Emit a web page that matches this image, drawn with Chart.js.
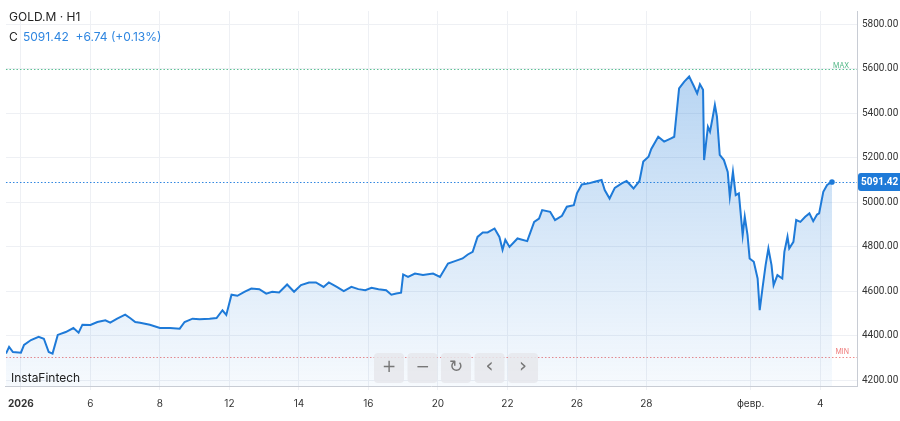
<!DOCTYPE html>
<html><head><meta charset="utf-8">
<script src="https://cdn.jsdelivr.net/npm/chart.js@4/dist/chart.umd.min.js"></script>
<style>html,body{margin:0;padding:0;background:#fff}#wrap{width:900px;height:421px;position:relative}</style>
</head><body><div id="wrap"><canvas id="c" width="900" height="421"></canvas></div>
<script>
// trading-day index (0 = Jan 2, 2026) and price
const days=[-0.43,-0.34,-0.23,0,0.09,0.29,0.51,0.66,0.8,0.91,1.06,1.29,1.51,1.66,1.77,2.0,2.2,2.43,2.57,2.77,3.0,3.14,3.29,3.43,3.71,4.0,4.29,4.57,4.71,4.94,5.14,5.43,5.63,5.8,5.91,6.06,6.23,6.43,6.63,6.86,7.06,7.23,7.43,7.66,7.86,8.06,8.29,8.49,8.71,8.86,9.09,9.29,9.51,9.71,9.91,10.09,10.29,10.51,10.66,10.8,10.94,11.0,11.14,11.34,11.57,11.86,12.06,12.29,12.51,12.71,12.86,13.0,13.14,13.29,13.43,13.63,13.77,13.86,13.94,14.06,14.29,14.57,14.77,14.91,15.0,15.23,15.37,15.57,15.71,15.91,16.0,16.14,16.34,16.51,16.71,16.8,16.94,17.09,17.29,17.43,17.63,17.8,17.91,18.06,18.14,18.34,18.51,18.71,18.8,18.94,19.09,19.23,19.37,19.46,19.54,19.63,19.66,19.77,19.83,19.91,19.97,20.03,20.11,20.23,20.34,20.4,20.49,20.57,20.66,20.77,20.83,20.91,20.97,21.09,21.2,21.26,21.34,21.43,21.51,21.6,21.66,21.77,21.91,21.97,22.06,22.11,22.23,22.31,22.43,22.57,22.69,22.8,22.91,22.97,23.09,23.2,23.34];
const prices=[4319,4349,4326,4323,4358,4380,4394,4386,4326,4319,4403,4416,4434,4413,4449,4448,4461,4469,4458,4476,4494,4479,4461,4458,4449,4434,4434,4431,4461,4476,4474,4476,4479,4514,4493,4584,4579,4597,4612,4609,4589,4597,4594,4630,4597,4627,4639,4639,4619,4639,4619,4600,4619,4609,4604,4615,4609,4604,4584,4589,4593,4675,4664,4679,4673,4679,4664,4724,4736,4747,4765,4777,4844,4864,4864,4882,4844,4786,4831,4799,4837,4825,4912,4927,4965,4957,4920,4939,4980,4987,5040,5080,5085,5092,5100,5055,5017,5065,5085,5096,5062,5096,5183,5205,5240,5295,5273,5288,5295,5513,5543,5566,5521,5490,5531,5506,5190,5340,5318,5385,5438,5385,5213,5190,5137,5025,5137,5032,5040,4852,4935,4852,4747,4732,4657,4514,4612,4717,4792,4717,4627,4672,4657,4777,4845,4792,4822,4920,4912,4935,4950,4915,4945,4950,5047,5078,5091.42];
const xTickDays=[0,2,4,6,8,10,12,14,16,18,21,23];
const xTickLabels=['2026','6','8','12','14','16','20','22','26','28','февр.','4'];
const yTicks=[4200,4400,4600,4800,5000,5200,5400,5600,5800];
const lastPrice=5091.42, maxLine=5602, minLine=4305;

const pts=days.map((d,i)=>({x:d,y:prices[i]}));
const overlay={id:'ov',
 beforeDatasetsDraw(ch){const {ctx,chartArea:a,scales:{x,y}}=ch;ctx.save();
  ctx.setLineDash([1.5,2]);ctx.lineWidth=1;
  [[maxLine,'#5bbf93'],[minLine,'#f08a8a'],[lastPrice,'#2f86e0']].forEach(([v,c])=>{const yy=Math.round(y.getPixelForValue(v))+0.5;ctx.strokeStyle=c;ctx.beginPath();ctx.moveTo(a.left,yy);ctx.lineTo(a.right,yy);ctx.stroke();});
  ctx.restore();},
 afterDatasetsDraw(ch){const {ctx,chartArea:a,scales:{x,y}}=ch;ctx.save();
  const lx=x.getPixelForValue(days[days.length-1]),ly=y.getPixelForValue(lastPrice);
  ctx.fillStyle='#1e7ad8';ctx.beginPath();ctx.arc(lx,ly,2.8,0,7);ctx.fill();
  ctx.font='7px Inter, sans-serif';ctx.textAlign='right';
  ctx.fillStyle='#4fb584';ctx.fillText('MAX',a.right-8,y.getPixelForValue(maxLine)-1);
  ctx.fillStyle='#ef7b7b';ctx.fillText('MIN',a.right-8,y.getPixelForValue(minLine)-3);
  ctx.fillStyle='#1e7ad8';const by=ly;ctx.beginPath();ctx.roundRect(a.right+1,by-9,43,18,[3,0,0,3]);ctx.fill();
  ctx.fillStyle='#fff';ctx.font='bold 10px Roboto, sans-serif';ctx.textAlign='left';ctx.textBaseline='middle';ctx.fillText(lastPrice.toFixed(2),a.right+4,by+0.5);
  ctx.textBaseline='alphabetic';ctx.fillStyle='#222';ctx.font='12px Inter, sans-serif';ctx.fillText('GOLD.M · H1',9,21);
  ctx.fillText('C',9,41);ctx.fillStyle='#2f86e0';ctx.fillText('5091.42  +6.74 (+0.13%)',23,41);
  ctx.fillStyle='#222';ctx.font='12px Inter, sans-serif';ctx.fillText('InstaFintech',11,382);
  const syms=['+','−','↻','‹','›'];
  syms.forEach((s,i)=>{const bx=374+i*33.5;ctx.fillStyle='rgba(230,232,236,0.85)';ctx.beginPath();ctx.roundRect(bx,353,30,30,4);ctx.fill();
   ctx.fillStyle='#777';ctx.font=(i>=3?'20px':'17px')+' DejaVu Sans, sans-serif';ctx.textAlign='center';ctx.textBaseline='middle';ctx.fillText(s,bx+15,i>=3?367:368);});
  ctx.restore();}
};
new Chart(document.getElementById('c'),{type:'line',
 data:{datasets:[{data:pts,borderColor:'#1e7ad8',borderWidth:2,pointRadius:0,tension:0,fill:'start',
  backgroundColor:(c)=>{const a=c.chart.chartArea;if(!a)return 'rgba(30,122,216,0.2)';const g=c.chart.ctx.createLinearGradient(0,a.top+60,0,a.bottom);g.addColorStop(0,'rgba(30,122,216,0.32)');g.addColorStop(1,'rgba(30,122,216,0.04)');return g;}}]},
 options:{responsive:false,animation:false,layout:{padding:0},
  plugins:{legend:{display:false},tooltip:{enabled:false}},
  scales:{
   x:{type:'linear',min:-0.43,max:24.06,
    afterBuildTicks(ax){ax.ticks=xTickDays.map(v=>({value:v}));},
    afterFit(ax){ax.height=35;},
    ticks:{autoSkip:false,maxRotation:0,padding:8,color:'#333',font:(c)=>({family:'Inter, sans-serif',size:10,weight:c.index===0?'bold':'normal'}),callback:(v,i)=>xTickLabels[i]},
    grid:{color:'#eef0f4',drawTicks:true,tickLength:4},border:{color:'#c8ccd4'}},
   y:{position:'right',min:4173,max:5861,
    afterBuildTicks(ax){ax.ticks=yTicks.map(v=>({value:v}));},
    afterFit(ax){ax.width=43;},
    ticks:{padding:5,color:'#333',font:{family:'Roboto, sans-serif',size:10},callback:v=>v.toFixed(2)},
    grid:{color:'#eef0f4',drawTicks:false},border:{color:'#c8ccd4'}}
  }},
 plugins:[overlay]});
</script></body></html>
